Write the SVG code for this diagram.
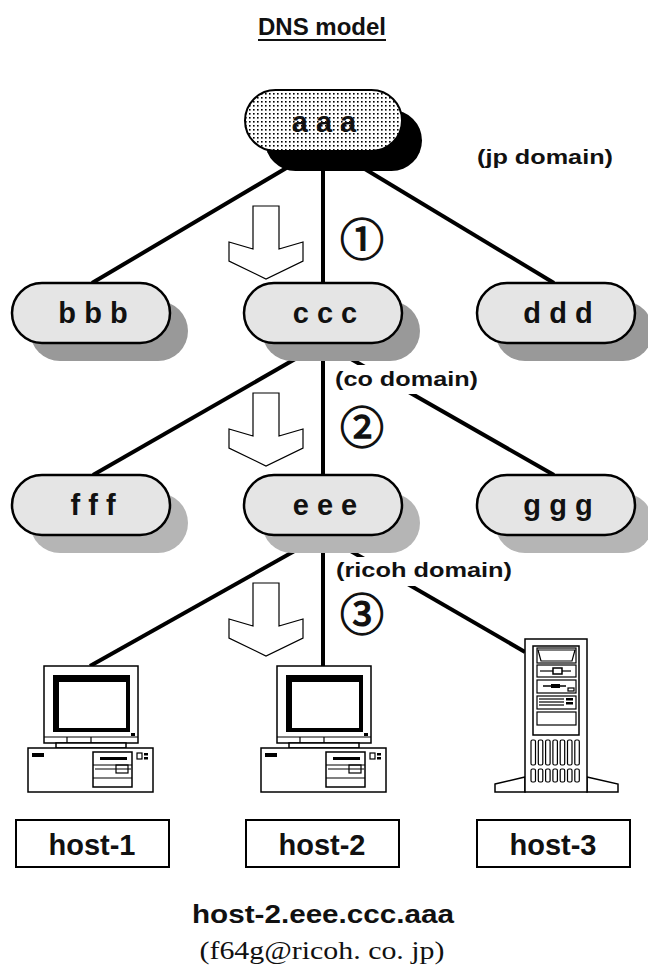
<svg xmlns="http://www.w3.org/2000/svg" xmlns:xlink="http://www.w3.org/1999/xlink" width="648" height="972" viewBox="0 0 648 972">
  <style>
    .link { stroke: #000; stroke-width: 4; fill: none; }
    .pill { fill: #e5e5e5; stroke: #000; stroke-width: 2.5; }
    .sh1 { fill: #999; }
    .sh2 { fill: #b5b5b5; }
    .lbl { font-family: "Liberation Sans", Arial, sans-serif; font-weight: bold; font-size: 29px; text-anchor: middle; fill: #111; }
    .dom { font-family: "Liberation Sans", Arial, sans-serif; font-weight: bold; font-size: 21px; fill: #111; }
    .num { font-family: "Noto Sans CJK JP", "DejaVu Sans", sans-serif; font-size: 44px; text-anchor: middle; fill: #111; stroke: #111; stroke-width: 1.3; }
    .arrow { fill: #fff; stroke: #000; stroke-width: 1.2; stroke-linejoin: miter; }
    .hw { fill: #fff; stroke: #000; stroke-width: 1.5; }
    .hl { fill: none; stroke: #000; stroke-width: 1.2; }
    .blk { fill: #000; }
    .box { fill: #fff; stroke: #000; stroke-width: 2; }
  </style>
  <defs>
    <pattern id="dots" width="4" height="4" patternUnits="userSpaceOnUse">
      <rect width="4" height="4" fill="#fff"/>
      <rect x="1" y="1" width="1.6" height="1.6" fill="#000"/>
    </pattern>
    <!-- hollow down arrow showing lookup direction -->
    <polygon id="down" class="arrow" points="253,206 279,206 279,249 303,242 303,261 266,279 229,261 229,242 253,249"/>
    <!-- desktop PC: monitor on top of a system unit -->
    <g id="pc">
      <rect class="hw" x="44" y="666" width="94" height="77"/>
      <rect class="blk" x="53" y="675" width="77" height="57"/>
      <rect fill="#fff" x="59" y="682" width="67" height="46"/>
      <rect class="blk" x="131" y="733" width="4" height="3"/>
      <line class="hl" x1="44" y1="737" x2="138" y2="737"/>
      <line class="hl" x1="67" y1="737" x2="67" y2="743"/>
      <line class="hl" x1="91" y1="737" x2="91" y2="743"/>
      <rect class="hw" x="56" y="743" width="70" height="5"/>
      <rect class="hw" x="28" y="748" width="125" height="44"/>
      <rect class="blk" x="32" y="753" width="12" height="4"/>
      <rect class="hw" x="93" y="752" width="39" height="35" stroke-width="1.2"/>
      <rect class="blk" x="100" y="757" width="27" height="3"/>
      <line class="hl" x1="93" y1="765" x2="132" y2="765"/>
      <line class="hl" x1="95" y1="769" x2="131" y2="769"/>
      <rect class="hl" x="116" y="765" width="12" height="8"/>
      <line class="hl" x1="93" y1="778" x2="132" y2="778"/>
      <rect class="hl" x="137" y="753" width="5" height="6"/>
      <rect class="blk" x="144" y="753" width="4" height="2.5"/>
      <rect class="blk" x="144" y="757" width="4" height="2.5"/>
    </g>
  </defs>

  <rect width="648" height="972" fill="#fff"/>

  <!-- title -->
  <g id="title">
    <text x="322" y="35" font-family="Liberation Sans, Arial, sans-serif" font-weight="bold" font-size="24" text-anchor="middle" textLength="128" lengthAdjust="spacingAndGlyphs" fill="#111">DNS model</text>
    <line x1="258" y1="40" x2="386" y2="40" stroke="#111" stroke-width="2"/>
  </g>

  <!-- tree connectors -->
  <g id="connectors">
    <line class="link" x1="315" y1="151" x2="92" y2="283"/>
    <line class="link" x1="323" y1="151" x2="323" y2="283"/>
    <line class="link" x1="335" y1="151" x2="554" y2="283"/>
    <line class="link" x1="323" y1="343" x2="93" y2="475"/>
    <line class="link" x1="323" y1="343" x2="323" y2="475"/>
    <line class="link" x1="323" y1="343" x2="554" y2="475"/>
    <line class="link" x1="323" y1="535" x2="90" y2="666"/>
    <line class="link" x1="323" y1="535" x2="323" y2="666"/>
    <line class="link" x1="323" y1="535" x2="525" y2="652"/>
  </g>

  <!-- lookup direction arrows -->
  <g id="arrows">
    <use xlink:href="#down"/>
    <use xlink:href="#down" y="187"/>
    <use xlink:href="#down" y="377"/>
  </g>

  <!-- step numbers -->
  <g id="steps">
    <text class="num" x="362" y="256">①</text>
    <text class="num" x="362" y="444">②</text>
    <text class="num" x="362" y="631">③</text>
  </g>

  <!-- root -->
  <g id="aaa">
    <rect x="265" y="110" width="157" height="61" rx="30.5" fill="#000"/>
    <rect x="245" y="90" width="157" height="61" rx="30.5" fill="url(#dots)" stroke="#000" stroke-width="2"/>
    <text class="lbl" x="324" y="132" font-size="27">a a a</text>
  </g>
  <g id="jp-domain">
    <text class="dom" x="477" y="164" textLength="136" lengthAdjust="spacingAndGlyphs">(jp domain)</text>
  </g>

  <!-- second level -->
  <g id="bbb">
    <rect class="sh1" x="30" y="301" width="158" height="60" rx="30"/>
    <rect class="pill" x="12" y="283" width="158" height="60" rx="30"/>
    <text class="lbl" x="93" y="323">b b b</text>
  </g>
  <g id="ccc">
    <rect class="sh1" x="262" y="301" width="158" height="60" rx="30"/>
    <rect class="pill" x="244" y="283" width="158" height="60" rx="30"/>
    <text class="lbl" x="325" y="323">c c c</text>
  </g>
  <g id="ddd">
    <rect class="sh1" x="495" y="301" width="158" height="60" rx="30"/>
    <rect class="pill" x="477" y="283" width="158" height="60" rx="30"/>
    <text class="lbl" x="558" y="323">d d d</text>
  </g>
  <g id="co-domain">
    <rect x="330" y="365" width="152" height="29" fill="#fff"/>
    <text class="dom" x="335" y="386" textLength="143" lengthAdjust="spacingAndGlyphs">(co domain)</text>
  </g>

  <!-- third level -->
  <g id="fff">
    <rect class="sh2" x="30" y="493" width="158" height="60" rx="30"/>
    <rect class="pill" x="12" y="475" width="158" height="60" rx="30"/>
    <text class="lbl" x="93" y="515">f f f</text>
  </g>
  <g id="eee">
    <rect class="sh2" x="262" y="493" width="158" height="60" rx="30"/>
    <rect class="pill" x="244" y="475" width="158" height="60" rx="30"/>
    <text class="lbl" x="325" y="515">e e e</text>
  </g>
  <g id="ggg">
    <rect class="sh2" x="495" y="493" width="158" height="60" rx="30"/>
    <rect class="pill" x="477" y="475" width="158" height="60" rx="30"/>
    <text class="lbl" x="558" y="515">g g g</text>
  </g>
  <g id="ricoh-domain">
    <rect x="330" y="557" width="186" height="29" fill="#fff"/>
    <text class="dom" x="336" y="577" textLength="176" lengthAdjust="spacingAndGlyphs">(ricoh domain)</text>
  </g>

  <!-- hosts -->
  <g id="host-1">
    <use xlink:href="#pc"/>
    <rect class="box" x="16" y="820" width="153" height="47"/>
    <text class="lbl" x="92" y="855">host-1</text>
  </g>
  <g id="host-2">
    <use xlink:href="#pc" x="233"/>
    <rect class="box" x="246" y="820" width="153" height="47"/>
    <text class="lbl" x="322" y="855">host-2</text>
  </g>
  <g id="host-3">
    <!-- tower server -->
    <polygon class="hw" points="495,784 525,777 525,792 495,792"/>
    <polygon class="hw" points="587,777 618,784 618,792 587,792"/>
    <rect class="hw" x="525" y="639" width="62" height="153"/>
    <rect class="hw" x="533" y="646" width="46" height="89"/>
    <rect class="hl" x="537" y="648" width="39" height="15"/>
    <polygon class="hl" points="538,650 575,650 572,661 541,661"/>
    <rect class="hl" x="537" y="665" width="39" height="12"/>
    <line class="hl" x1="540" y1="671" x2="571" y2="671"/>
    <rect class="hw" x="553" y="668" width="9" height="6" stroke-width="1.2"/>
    <rect class="hl" x="537" y="680" width="39" height="13"/>
    <line x1="543" y1="686" x2="566" y2="686" stroke="#000" stroke-width="1.5"/>
    <rect class="blk" x="551" y="684" width="9" height="4"/>
    <rect class="hl" x="568" y="688" width="6" height="3"/>
    <rect class="hl" x="537" y="696" width="39" height="13"/>
    <line class="hl" x1="539" y1="699" x2="564" y2="699"/>
    <line class="hl" x1="539" y1="702" x2="564" y2="702"/>
    <line class="hl" x1="539" y1="705" x2="564" y2="705"/>
    <rect class="blk" x="566" y="698" width="7" height="2.5"/>
    <rect class="blk" x="566" y="702" width="7" height="2.5"/>
    <rect class="hl" x="537" y="712" width="39" height="13"/>
    <g class="hl">
      <rect x="531" y="740" width="4.5" height="25" rx="1.5"/>
      <rect x="538.3" y="740" width="4.5" height="25" rx="1.5"/>
      <rect x="545.6" y="740" width="4.5" height="25" rx="1.5"/>
      <rect x="552.9" y="740" width="4.5" height="25" rx="1.5"/>
      <rect x="560.2" y="740" width="4.5" height="25" rx="1.5"/>
      <rect x="567.5" y="740" width="4.5" height="25" rx="1.5"/>
      <rect x="574.8" y="740" width="4.5" height="25" rx="1.5"/>
      <rect x="531" y="769" width="4.5" height="13" rx="1.5"/>
      <rect x="538.3" y="769" width="4.5" height="13" rx="1.5"/>
      <rect x="545.6" y="769" width="4.5" height="13" rx="1.5"/>
      <rect x="552.9" y="769" width="4.5" height="13" rx="1.5"/>
      <rect x="560.2" y="769" width="4.5" height="13" rx="1.5"/>
      <rect x="567.5" y="769" width="4.5" height="13" rx="1.5"/>
      <rect x="574.8" y="769" width="4.5" height="13" rx="1.5"/>
    </g>
    <rect class="box" x="477" y="820" width="153" height="47"/>
    <text class="lbl" x="553" y="855">host-3</text>
  </g>

  <!-- full name of host-2 -->
  <g id="fqdn">
    <text x="323" y="923" font-family="Liberation Sans, Arial, sans-serif" font-weight="bold" font-size="25" text-anchor="middle" textLength="262" lengthAdjust="spacingAndGlyphs" fill="#111">host-2.eee.ccc.aaa</text>
    <text x="322" y="959" font-family="Liberation Serif, Times New Roman, serif" font-size="26" text-anchor="middle" textLength="245" lengthAdjust="spacingAndGlyphs" fill="#111">(f64g@ricoh. co. jp)</text>
  </g>
</svg>
